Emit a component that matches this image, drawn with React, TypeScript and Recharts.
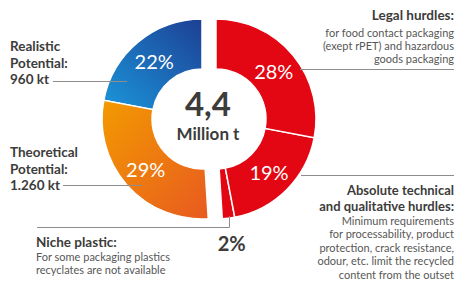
import React from 'react';
import { PieChart, Pie, Cell } from 'recharts';

// Anteile der 4,4 Mio. t (in %)
const potentialNames = ['Realistic Potential', 'Theoretical Potential'];
const potentialValues = [22, 29];
const hurdleNames = ['Niche plastic', 'Absolute technical and qualitative hurdles', 'Legal hurdles'];
const hurdleValues = [2, 19, 28];

const centerValue = '4,4';
const centerUnit = 'Million t';

const realisticLabel = ['Realistic', 'Potential:', '960 kt'];
const theoreticalLabel = ['Theoretical', 'Potential:', '1.260 kt'];
const legalTitle = ['Legal hurdles:'];
const legalText = ['for food contact packaging', '(exept rPET) and hazardous', 'goods packaging'];
const technicalTitle = ['Absolute technical', 'and qualitative hurdles:'];
const technicalText = [
  'Minimum requirements',
  'for processability, product',
  'protection, crack resistance,',
  'odour, etc. limit the recycled',
  'content from the outset',
];
const nicheTitle = ['Niche plastic:'];
const nicheText = ['For some packaging plastics', 'recyclates are not available'];

const potentialData = potentialNames.map((name, i) => ({ name, value: potentialValues[i] }));
const hurdleData = hurdleNames.map((name, i) => ({ name, value: hurdleValues[i] }));

const FONT = 'Lato, "Open Sans", sans-serif';
const DARK = '#3c3c3b';
const GREY = '#575756';
const LINE = '#8d8d8d';
const RADIAN = Math.PI / 180;

const CY = 119;
const INNER = 50;
const OUTER = 100;
const SPLIT = 90 + (potentialValues.reduce((a, b) => a + b, 0) / 100) * 360;

// Prozent-Beschriftung in der Mitte des Rings, kleine Anteile außen
const renderLabel = (props: any) => {
  const { cx, cy, midAngle, innerRadius, outerRadius, value } = props;
  const small = value < 5;
  const r = small ? outerRadius + 25 : (innerRadius + outerRadius) / 2;
  const x = cx + r * Math.cos(-midAngle * RADIAN);
  const y = cy + r * Math.sin(-midAngle * RADIAN);
  return (
    <text
      x={x}
      y={y}
      fill={small ? DARK : '#ffffff'}
      textAnchor="middle"
      dominantBaseline="central"
      fontFamily={FONT}
      fontSize={20}
      fontWeight={small ? 700 : 400}
    >
      {value}%
    </text>
  );
};

const Lines = ({ x, y, lines, size, weight, color, anchor = 'start', step }: any) => (
  <text x={x} y={y} fontFamily={FONT} fontSize={size} fontWeight={weight} fill={color} textAnchor={anchor}>
    {lines.map((l: string, i: number) => (
      <tspan key={i} x={x} dy={i === 0 ? 0 : step}>
        {l}
      </tspan>
    ))}
  </text>
);

export default function App() {
  return (
    <div style={{ position: 'fixed', left: 0, top: 0, width: 457, height: 282, background: '#fff' }}>
      <PieChart width={457} height={282} margin={{ top: 0, right: 0, bottom: 0, left: 0 }}>
        <defs>
          <linearGradient id="blueGrad" x1="0" y1="1" x2="1" y2="0">
            <stop offset="0%" stopColor="#1b96da" />
            <stop offset="100%" stopColor="#1d3f94" />
          </linearGradient>
          <linearGradient id="orangeGrad" x1="0" y1="0" x2="1" y2="1">
            <stop offset="0%" stopColor="#f39a00" />
            <stop offset="100%" stopColor="#e85a20" />
          </linearGradient>
        </defs>
        <Pie
          data={potentialData}
          dataKey="value"
          cx={202}
          cy={CY}
          innerRadius={INNER}
          outerRadius={OUTER}
          startAngle={90}
          endAngle={SPLIT}
          stroke="#ffffff"
          strokeWidth={1.5}
          label={renderLabel}
          labelLine={false}
          isAnimationActive={false}
        >
          <Cell fill="url(#blueGrad)" />
          <Cell fill="url(#orangeGrad)" />
        </Pie>
        <Pie
          data={hurdleData}
          dataKey="value"
          cx={216}
          cy={CY}
          innerRadius={INNER}
          outerRadius={OUTER}
          startAngle={SPLIT}
          endAngle={450}
          stroke="#ffffff"
          strokeWidth={1.5}
          label={renderLabel}
          labelLine={false}
          isAnimationActive={false}
        >
          <Cell fill="#e30613" />
          <Cell fill="#e30613" />
          <Cell fill="#e30613" />
        </Pie>
      </PieChart>
      <svg width={457} height={282} style={{ position: 'absolute', left: 0, top: 0, pointerEvents: 'none' }}>
        {/* Mitte */}
        <text x={208} y={116} textAnchor="middle" fontFamily={FONT} fontSize={33} fontWeight={700} fill={DARK}>
          {centerValue}
        </text>
        <text x={208} y={140} textAnchor="middle" fontFamily={FONT} fontSize={17} fontWeight={700} fill={DARK}>
          {centerUnit}
        </text>

        {/* Hinweislinien */}
        <line x1={53} y1={81.5} x2={127} y2={81.5} stroke={LINE} strokeWidth={1} />
        <line x1={63} y1={185.5} x2={142} y2={185.5} stroke={LINE} strokeWidth={1} />
        <line x1={300} y1={69.5} x2={454} y2={69.5} stroke={LINE} strokeWidth={1} />
        <line x1={301} y1={175.5} x2={454} y2={175.5} stroke={LINE} strokeWidth={1} />
        <polyline points="37,227.5 229.5,227.5 229.5,216" fill="none" stroke={LINE} strokeWidth={1} />

        {/* Links */}
        <Lines x={10} y={51} lines={realisticLabel} size={13.5} weight={700} color={DARK} step={16.5} />
        <Lines x={10} y={157} lines={theoreticalLabel} size={13.5} weight={700} color={DARK} step={16.5} />
        <Lines x={36} y={247} lines={nicheTitle} size={13.5} weight={700} color={DARK} step={16} />
        <Lines x={36} y={261} lines={nicheText} size={11} weight={400} color={GREY} step={13.2} />

        {/* Rechts */}
        <Lines x={454} y={20} lines={legalTitle} size={13.5} weight={700} color={DARK} anchor="end" step={16} />
        <Lines x={454} y={37} lines={legalText} size={11} weight={400} color={GREY} anchor="end" step={13.2} />
        <Lines x={454} y={195} lines={technicalTitle} size={13} weight={700} color={DARK} anchor="end" step={15.6} />
        <Lines x={454} y={225} lines={technicalText} size={11} weight={400} color={GREY} anchor="end" step={13.4} />
      </svg>
    </div>
  );
}
